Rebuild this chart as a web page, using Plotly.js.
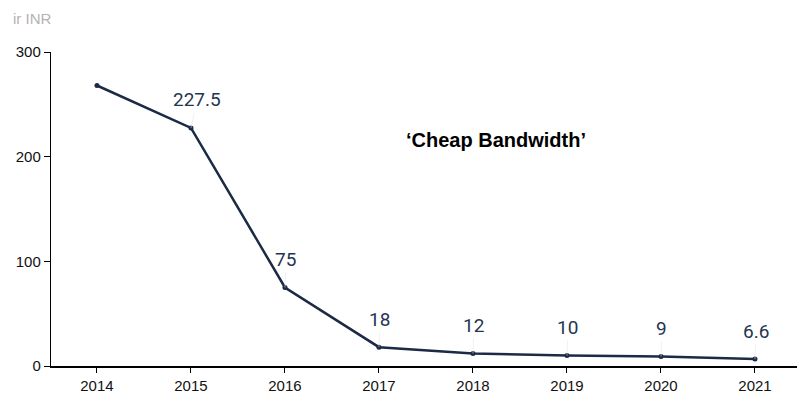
<!DOCTYPE html>
<html><head><meta charset="utf-8">
<script src="https://cdn.plot.ly/plotly-3.0.1.min.js"></script>
<style>html,body{margin:0;padding:0;background:#fff}#c{width:797px;height:400px}</style>
</head><body><div id="c"></div>
<script>
const years = [2014, 2015, 2016, 2017, 2018, 2019, 2020, 2021];
const prices = [268, 227.5, 75, 18, 12, 10, 9, 6.6];
const labels = ['', '227.5', '75', '18', '12', '10', '9', '6.6'];
const yTicks = [0, 100, 200, 300];
const unitText = 'ir INR';
const noteText = '\u2018Cheap Bandwidth\u2019';

const navy = '#1b2a45';
const annotations = [];
years.forEach((y, i) => {
  if (labels[i]) annotations.push({
    x: y, y: prices[i], xref: 'x', yref: 'y', text: labels[i],
    showarrow: true, arrowhead: 0, arrowwidth: 0.6, arrowcolor: '#e2e6ea',
    ax: i === 1 ? 6 : 1, ay: -28, yanchor: 'middle', standoff: 0,
    font: {family: 'Roboto, Arial, sans-serif', size: 19, color: '#243552'}
  });
});
annotations.push({xref: 'paper', yref: 'paper', x: -0.053, y: 1.0, yshift: 34, xanchor: 'left', yanchor: 'middle',
  text: unitText, showarrow: false, font: {family: 'Liberation Sans, Arial', size: 15, color: '#b3b3b3'}});
annotations.push({xref: 'x', yref: 'y', x: 2018.25, y: 216, xanchor: 'center', yanchor: 'middle',
  text: '<b>' + noteText + '</b>', showarrow: false, font: {family: 'Liberation Sans, Arial', size: 20, color: '#000'}});

Plotly.newPlot('c', [{
  x: years, y: prices, type: 'scatter', mode: 'lines+markers',
  line: {color: navy, width: 2.5}, marker: {color: navy, size: 5},
  hoverinfo: 'skip'
}], {
  width: 797, height: 400,
  margin: {l: 51, r: 0, t: 52, b: 34},
  paper_bgcolor: '#fff', plot_bgcolor: '#fff',
  showlegend: false,
  xaxis: {range: [2013.511, 2021.447], tickvals: years, ticktext: years.map(String),
    showgrid: false, zeroline: false, showline: true, linecolor: '#000', linewidth: 1.5,
    ticks: 'outside', ticklen: 5, tickcolor: '#000',
    tickfont: {family: 'Liberation Sans, Arial', size: 15, color: '#111'}},
  yaxis: {range: [0, 300], tickvals: yTicks, ticktext: yTicks.map(String),
    showgrid: false, zeroline: false, showline: true, linecolor: '#000', linewidth: 1.2,
    ticks: 'outside', ticklen: 6, tickcolor: '#000',
    tickfont: {family: 'Liberation Sans, Arial', size: 15, color: '#111'}},
  annotations: annotations
}, {staticPlot: true});
</script></body></html>
